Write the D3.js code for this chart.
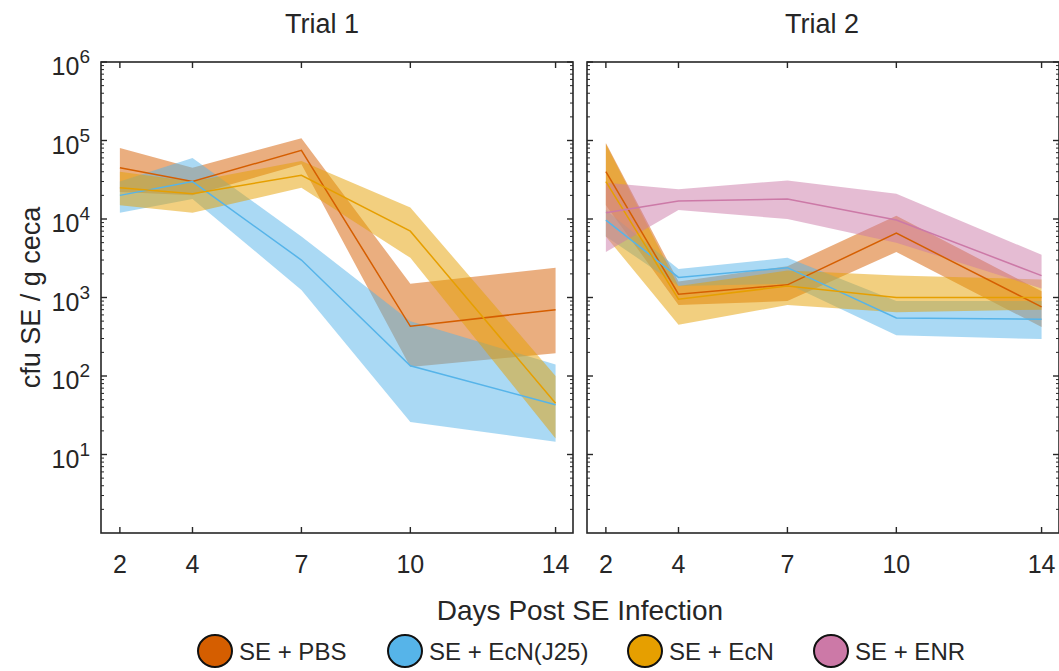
<!DOCTYPE html>
<html>
<head>
<meta charset="utf-8">
<script src="https://cdn.jsdelivr.net/npm/d3@7"></script>
<style>
  body { margin: 0; background: #fff; }
  text { font-family: "Liberation Sans", Arial, sans-serif; fill: #262626; }
</style>
</head>
<body>
<div id="chart"></div>
<script>
var svgWidth = 1059;
var svgHeight = 671;

// data
var days = [2, 4, 7, 10, 14];
var groups = ["SE + PBS", "SE + EcN(J25)", "SE + EcN", "SE + ENR"];
var colors = ["#D55E00", "#56B4E9", "#E69F00", "#CC79A7"];
var trials = ["Trial 1", "Trial 2"];
var yTicks = [1e1, 1e2, 1e3, 1e4, 1e5, 1e6];

// trial 1 : mean / lower / upper
var t1PbsMean = [45000, 30000, 75000, 430, 700];
var t1PbsLow  = [22000, 20000, 50000, 130, 195];
var t1PbsHigh = [80000, 45000, 107000, 1500, 2400];
var t1J25Mean = [20000, 30000, 3000, 135, 43];
var t1J25Low  = [12000, 18000, 1250, 26, 14.5];
var t1J25High = [30000, 60000, 6000, 500, 140];
var t1EcnMean = [25000, 21000, 36000, 7000, 45];
var t1EcnLow  = [15000, 12000, 25000, 3200, 16];
var t1EcnHigh = [40000, 30000, 55000, 14000, 100];

// trial 2
var t2PbsMean = [40000, 1100, 1450, 6600, 760];
var t2PbsLow  = [15000, 800, 900, 3800, 420];
var t2PbsHigh = [93000, 1600, 2500, 11000, 1200];
var t2J25Mean = [9700, 1800, 2400, 550, 530];
var t2J25Low  = [6000, 1400, 1500, 330, 295];
var t2J25High = [13000, 2300, 3200, 900, 900];
var t2EcnMean = [30000, 950, 1400, 1000, 1000];
var t2EcnLow  = [6000, 450, 800, 650, 700];
var t2EcnHigh = [90000, 1400, 2200, 1900, 1700];
var t2EnrMean = [12000, 17000, 18000, 9700, 1900];
var t2EnrLow  = [3800, 13000, 10000, 5000, 1300];
var t2EnrHigh = [29000, 24000, 31000, 21000, 3500];

var panels = [
  [
    {c: 0, mean: t1PbsMean, low: t1PbsLow, high: t1PbsHigh},
    {c: 1, mean: t1J25Mean, low: t1J25Low, high: t1J25High},
    {c: 2, mean: t1EcnMean, low: t1EcnLow, high: t1EcnHigh}
  ],
  [
    {c: 0, mean: t2PbsMean, low: t2PbsLow, high: t2PbsHigh},
    {c: 1, mean: t2J25Mean, low: t2J25Low, high: t2J25High},
    {c: 2, mean: t2EcnMean, low: t2EcnLow, high: t2EcnHigh},
    {c: 3, mean: t2EnrMean, low: t2EnrLow, high: t2EnrHigh}
  ]
];

var panelLeft = [101, 587];
var panelW = 472;
var titleX = [322, 822];
var plotTop = 62, plotBottom = 533;

var svg = d3.select("#chart").append("svg")
  .attr("width", svgWidth)
  .attr("height", svgHeight);

var yScale = d3.scaleLog().domain([1, 1e6]).range([plotBottom, plotTop]);

var minorTicks = [];
for (var e = 0; e < 6; e++) {
  for (var m = 2; m <= 9; m++) minorTicks.push(m * Math.pow(10, e));
}

panels.forEach(function(series, p) {
  var x0 = panelLeft[p];
  var xScale = d3.scaleLinear().domain([1.48, 14.48]).range([x0, x0 + panelW]);
  var g = svg.append("g");

  // bands
  series.forEach(function(s) {
    var area = d3.area()
      .x(function(d, i) { return xScale(days[i]); })
      .y0(function(d, i) { return yScale(s.low[i]); })
      .y1(function(d, i) { return yScale(s.high[i]); });
    g.append("path")
      .datum(days)
      .attr("d", area)
      .attr("fill", colors[s.c])
      .attr("fill-opacity", 0.5)
      .attr("stroke", "none");
  });
  // lines
  series.forEach(function(s) {
    var line = d3.line()
      .x(function(d, i) { return xScale(days[i]); })
      .y(function(d, i) { return yScale(s.mean[i]); });
    g.append("path")
      .datum(days)
      .attr("d", line)
      .attr("fill", "none")
      .attr("stroke", colors[s.c])
      .attr("stroke-width", 1.5);
  });

  // frame
  g.append("rect")
    .attr("x", x0).attr("y", plotTop)
    .attr("width", panelW).attr("height", plotBottom - plotTop)
    .attr("fill", "none")
    .attr("stroke", "#262626")
    .attr("stroke-width", 1.6);

  // x ticks, inward on bottom and top
  days.forEach(function(d) {
    var xx = xScale(d);
    g.append("line").attr("x1", xx).attr("x2", xx).attr("y1", plotBottom).attr("y2", plotBottom - 6)
      .attr("stroke", "#262626").attr("stroke-width", 1.4);
    g.append("line").attr("x1", xx).attr("x2", xx).attr("y1", plotTop).attr("y2", plotTop + 6)
      .attr("stroke", "#262626").attr("stroke-width", 1.4);
    g.append("text")
      .attr("x", xx).attr("y", plotBottom + 40)
      .attr("text-anchor", "middle")
      .attr("font-size", "25px")
      .text(d);
  });

  // y ticks, inward on left and right
  yTicks.forEach(function(v) {
    var yy = yScale(v);
    g.append("line").attr("x1", x0).attr("x2", x0 + 6).attr("y1", yy).attr("y2", yy)
      .attr("stroke", "#262626").attr("stroke-width", 1.4);
    g.append("line").attr("x1", x0 + panelW).attr("x2", x0 + panelW - 6).attr("y1", yy).attr("y2", yy)
      .attr("stroke", "#262626").attr("stroke-width", 1.4);
  });
  minorTicks.forEach(function(v) {
    var yy = yScale(v);
    g.append("line").attr("x1", x0).attr("x2", x0 + 3).attr("y1", yy).attr("y2", yy)
      .attr("stroke", "#262626").attr("stroke-width", 1);
    g.append("line").attr("x1", x0 + panelW).attr("x2", x0 + panelW - 3).attr("y1", yy).attr("y2", yy)
      .attr("stroke", "#262626").attr("stroke-width", 1);
  });

  if (p === 0) {
    yTicks.forEach(function(v) {
      var t = g.append("text")
        .attr("x", x0 - 11).attr("y", yScale(v) + 13)
        .attr("text-anchor", "end")
        .attr("font-size", "25px");
      t.append("tspan").text("10");
      t.append("tspan").attr("font-size", "19px").attr("dy", -12).text(Math.round(Math.log10(v)));
    });
  }

  // title
  svg.append("text")
    .attr("x", titleX[p]).attr("y", 33)
    .attr("text-anchor", "middle")
    .attr("font-size", "27px")
    .text(trials[p]);
});

// axis labels
svg.append("text")
  .attr("transform", "translate(40," + ((plotTop + plotBottom) / 2) + ") rotate(-90)")
  .attr("text-anchor", "middle")
  .attr("font-size", "27px")
  .text("cfu SE / g ceca");

svg.append("text")
  .attr("x", 580).attr("y", 620)
  .attr("text-anchor", "middle")
  .attr("font-size", "28px")
  .text("Days Post SE Infection");

// legend
var legendX = [215, 405, 645, 831];
groups.forEach(function(name, i) {
  svg.append("ellipse")
    .attr("cx", legendX[i]).attr("cy", 651)
    .attr("rx", 17).attr("ry", 16)
    .attr("fill", colors[i])
    .attr("stroke", "#111")
    .attr("stroke-width", 2);
  svg.append("text")
    .attr("x", legendX[i] + 24).attr("y", 660)
    .attr("font-size", "24px")
    .text(name);
});
</script>
</body>
</html>
